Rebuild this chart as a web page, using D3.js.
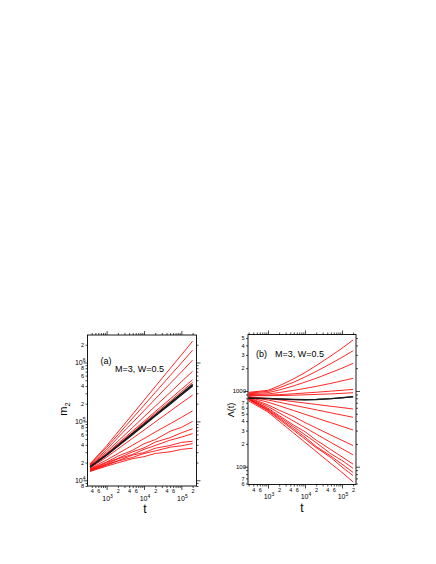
<!DOCTYPE html>
<html>
<head>
<meta charset="utf-8">
<script src="https://cdn.jsdelivr.net/npm/d3@7"></script>
<style>
  body { margin: 0; background: #fff; }
  svg { font-family: "Liberation Sans", Arial, sans-serif; }
</style>
</head>
<body>
<svg id="chart" width="436" height="564"></svg>
<script>
/*--------------------------- data ---------------------------*/

const T_M2 = [360, 1000, 2000, 5000, 1e4, 2e4, 5e4, 1e5, 2e5];
const T_LAMBDA = [300, 1000, 2000, 5000, 1e4, 2e4, 5e4, 1e5, 2e5];

// panel (a): m2(t)
const M2_RED = [
    [1.9e4, 3.85e4, 6.6e4, 1.33e5, 2.28e5, 3.9e5, 7.9e5, 1.34e6, 2.3e6],
    [1.86e4, 3.6e4, 5.9e4, 1.14e5, 1.88e5, 3.1e5, 6.0e5, 9.8e5, 1.62e6],
    [1.82e4, 3.3e4, 5.3e4, 9.6e4, 1.52e5, 2.4e5, 4.4e5, 6.9e5, 1.1e6],
    [1.78e4, 3.05e4, 4.6e4, 7.9e4, 1.2e5, 1.81e5, 3.1e5, 4.7e5, 7.1e5],
    [1.74e4, 2.86e4, 4.2e4, 6.9e4, 1.0e5, 1.47e5, 2.4e5, 3.5e5, 5.1e5],
    [1.72e4, 2.79e4, 4.03e4, 6.5e4, 9.5e4, 1.37e5, 2.2e5, 3.2e5, 4.6e5],
    [1.62e4, 2.47e4, 3.4e4, 5.2e4, 7.1e4, 9.8e4, 1.49e5, 2.05e5, 2.8e5],
    [1.58e4, 2.21e4, 2.84e4, 3.96e4, 5.1e4, 6.6e4, 9.1e4, 1.17e5, 1.51e5],
    [1.55e4, 2.04e4, 2.57e4, 3.24e4, 4.17e4, 4.9e4, 6.8e4, 7.9e4, 1.0e5],
    [1.51e4, 2.0e4, 2.35e4, 3.05e4, 3.55e4, 4.45e4, 5.3e4, 6.4e4, 7.5e4],
    [1.48e4, 1.9e4, 2.32e4, 2.75e4, 3.35e4, 3.9e4, 4.8e4, 5.4e4, 6.2e4],
    [1.45e4, 1.86e4, 2.15e4, 2.68e4, 2.95e4, 3.5e4, 3.9e4, 4.4e4, 4.6e4],
    [1.45e4, 1.8e4, 2.12e4, 2.45e4, 2.85e4, 3.15e4, 3.65e4, 3.85e4, 4.2e4],
    [1.41e4, 1.74e4, 1.98e4, 2.33e4, 2.52e4, 2.85e4, 3.05e4, 3.35e4, 3.5e4]
];
const M2_BLACK = [
    [1.7e4, 2.73e4, 3.92e4, 6.3e4, 9.0e4, 1.29e5, 2.08e5, 2.97e5, 4.27e5],
    [1.68e4, 2.69e4, 3.85e4, 6.15e4, 8.8e4, 1.26e5, 2.02e5, 2.88e5, 4.12e5],
    [1.66e4, 2.65e4, 3.78e4, 6.0e4, 8.6e4, 1.23e5, 1.96e5, 2.79e5, 3.98e5]
];

// panel (b): Lambda(t)
const LAMBDA_RED = [
    [960, 1020, 1170, 1450, 1750, 2160, 2900, 3670, 4720],
    [940, 990, 1100, 1310, 1530, 1810, 2300, 2780, 3400],
    [920, 950, 1030, 1170, 1310, 1470, 1750, 2000, 2320],
    [900, 912, 953, 1020, 1080, 1150, 1260, 1360, 1470],
    [885, 883, 895, 918, 940, 962, 995, 1020, 1050],
    [870, 865, 870, 880, 890, 900, 915, 930, 950],
    [845, 796, 764, 723, 693, 664, 628, 603, 578],
    [832, 760, 710, 647, 604, 564, 515, 481, 449],
    [822, 711, 637, 550, 492, 441, 381, 341, 305],
    [813, 656, 557, 458, 383, 325, 262, 223, 190],
    [804, 624, 514, 398, 328, 270, 209, 173, 143],
    [794, 592, 473, 353, 290, 225, 168, 135, 108],
    [785, 575, 455, 334, 264, 208, 148, 121, 95],
    [776, 560, 437, 315, 246, 185, 138, 108, 84],
    [767, 547, 422, 301, 232, 179, 132, 99, 76],
    [740, 527, 399, 277, 210, 159, 110, 84, 63]
];
const LAMBDA_BLACK = [
    [800, 790, 780, 770, 765, 770, 790, 810, 840],
    [810, 798, 788, 776, 770, 775, 793, 815, 835]
];

const X_MINOR_LABELS = [2, 4, 6];
const M2_MINOR_LABELS = [2, 4, 6, 8];
const LAMBDA_MINOR_LABELS = [2, 3, 4, 5, 6, 7];

/*--------------------------- helpers ---------------------------*/

const svg = d3.select("#chart");

const logTicks = domain => {
    const major = [], minor = [];
    for (let e = 1; e <= 7; e++) {
        for (let m = 1; m <= 9; m++) {
            const v = m * Math.pow(10, e);
            if (v < domain[0] || v > domain[1]) continue;
            (m === 1 ? major : minor).push(v);
        }
    }
    return { major, minor };
};

const digit = v => Math.round(v / Math.pow(10, Math.floor(Math.log10(v) + 1e-9)));
const minorFormat = labels => v => labels.includes(digit(v)) ? digit(v) : "";

const tickAxis = (g, axis, values, size, transform, fmt) => {
    const a = g.append("g")
        .attr("transform", transform)
        .call(axis.tickValues(values).tickSize(size).tickPadding(1.5).tickFormat(fmt || (() => "")));
    a.select(".domain").remove();
    a.attr("font-family", null).attr("font-size", 5.5);
    a.selectAll("line").attr("stroke-width", 0.7);
    return a;
};

const powLabel = (sel, size) => sel.each(function(d) {
    const t = d3.select(this);
    t.append("tspan").text("10");
    t.append("tspan").attr("dy", -3).attr("font-size", size).text(Math.round(Math.log10(d)));
});

/*--------------------------- panel ---------------------------*/

const drawPanel = cfg => {
    const x = d3.scaleLog().domain(cfg.xDomain).range([cfg.left, cfg.right]);
    const y = d3.scaleLog().domain(cfg.yDomain).range([cfg.bottom, cfg.top]);
    const g = svg.append("g");

    const line = d3.line().x((d, i) => x(cfg.t[i])).y(d => y(d));

    g.append("g").selectAll("path")
        .data(cfg.red)
        .enter()
        .append("path")
        .attr("d", line)
        .attr("fill", "none")
        .attr("stroke", "#ff0000")
        .attr("stroke-width", 0.85);

    g.append("g").selectAll("path")
        .data(cfg.black)
        .enter()
        .append("path")
        .attr("d", line)
        .attr("fill", "none")
        .attr("stroke", "#1a1a1a")
        .attr("stroke-width", 1.2);

    //frame
    g.append("rect")
        .attr("x", cfg.left)
        .attr("y", cfg.top)
        .attr("width", cfg.right - cfg.left)
        .attr("height", cfg.bottom - cfg.top)
        .attr("fill", "none")
        .attr("stroke", "#000")
        .attr("stroke-width", 0.9);

    const xt = logTicks(cfg.xDomain);
    const yt = logTicks(cfg.yDomain);

    //x ticks, bottom and top
    tickAxis(g, d3.axisBottom(x), xt.minor, 2, `translate(0,${cfg.bottom})`, minorFormat(X_MINOR_LABELS))
        .selectAll("text").attr("dy", "0.71em");
    tickAxis(g, d3.axisBottom(x), xt.major, 4, `translate(0,${cfg.bottom})`);
    tickAxis(g, d3.axisTop(x), xt.minor, 2, `translate(0,${cfg.top})`);
    tickAxis(g, d3.axisTop(x), xt.major, 4, `translate(0,${cfg.top})`);

    g.append("g").selectAll("text")
        .data(xt.major)
        .enter()
        .append("text")
        .attr("x", d => x(d) + 1)
        .attr("y", cfg.bottom + 14.5)
        .attr("text-anchor", "middle")
        .attr("font-size", 7)
        .call(powLabel, 5);

    //y ticks, left and right
    tickAxis(g, d3.axisLeft(y), yt.minor, 2, `translate(${cfg.left},0)`, minorFormat(cfg.yMinorLabels));
    tickAxis(g, d3.axisLeft(y), yt.major, 4, `translate(${cfg.left},0)`);
    tickAxis(g, d3.axisRight(y), yt.minor, 2, `translate(${cfg.right},0)`);
    tickAxis(g, d3.axisRight(y), yt.major, 4, `translate(${cfg.right},0)`);

    const yMajor = g.append("g").selectAll("text")
        .data(yt.major)
        .enter()
        .append("text")
        .attr("x", cfg.left - 2)
        .attr("y", d => y(d) + 2.5)
        .attr("text-anchor", "end");
    if (cfg.yPow) {
        yMajor.attr("font-size", 7).call(powLabel, 5);
    } else {
        yMajor.attr("font-size", 6).text(d => d);
    }

    //titles
    g.append("text")
        .attr("x", cfg.tagX)
        .attr("y", cfg.tagY)
        .attr("font-size", 9)
        .text(cfg.tag);

    g.append("text")
        .attr("x", cfg.noteX)
        .attr("y", cfg.noteY)
        .attr("font-size", 9)
        .text("M=3, W=0.5");

    g.append("text")
        .attr("x", cfg.tX)
        .attr("y", cfg.tY)
        .attr("text-anchor", "middle")
        .attr("font-size", 12)
        .text("t");

    const yl = g.append("text")
        .attr("transform", `translate(${cfg.yLabelX},${cfg.yLabelY}) rotate(-90)`)
        .attr("text-anchor", "middle")
        .attr("font-size", cfg.yLabelSize);
    cfg.yLabel(yl);
};

drawPanel({
    left: 87.5, right: 196.5, top: 335, bottom: 486,
    xDomain: [308, 2.54e5], yDomain: [8.0e3, 2.93e6],
    t: T_M2, red: M2_RED, black: M2_BLACK,
    yMinorLabels: M2_MINOR_LABELS, yPow: true,
    tag: "(a)", tagX: 100.5, tagY: 364,
    noteX: 115, noteY: 371.5,
    tX: 145, tY: 513,
    yLabelX: 66.5, yLabelY: 409, yLabelSize: 11,
    yLabel: s => {
        s.append("tspan").text("m");
        s.append("tspan").attr("dy", 3).attr("font-size", 7.5).text("2");
    }
});

drawPanel({
    left: 248, right: 356, top: 334.5, bottom: 484.5,
    xDomain: [288, 2.39e5], yDomain: [58.2, 5570],
    t: T_LAMBDA, red: LAMBDA_RED, black: LAMBDA_BLACK,
    yMinorLabels: LAMBDA_MINOR_LABELS, yPow: false,
    tag: "(b)", tagX: 256, tagY: 356.5,
    noteX: 275, noteY: 356.5,
    tX: 302, tY: 511.5,
    yLabelX: 233.5, yLabelY: 410, yLabelSize: 9,
    yLabel: s => s.text("\u039B(t)")
});
</script>
</body>
</html>
